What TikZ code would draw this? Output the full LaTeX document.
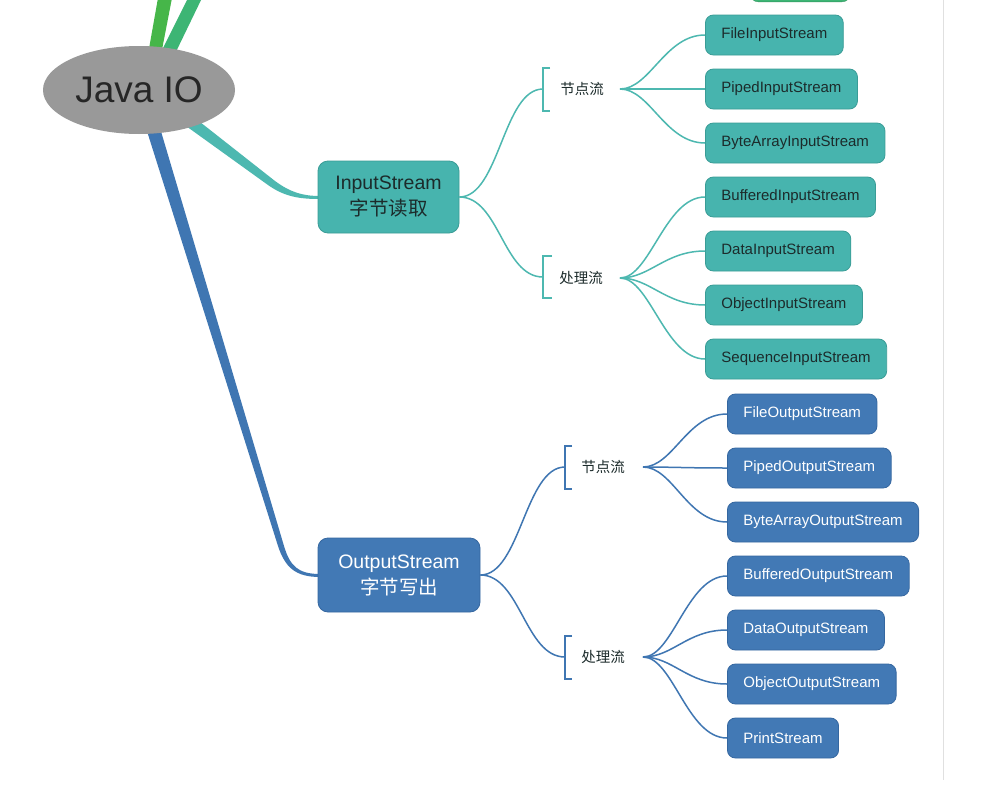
\documentclass[tikz,border=0pt]{standalone}
\usepackage{fontspec}
\setmainfont{Liberation Sans}
\newfontfamily\cjk{Noto Sans CJK SC}
\usetikzlibrary{shapes.geometric}
\definecolor{teal1}{HTML}{47B4AE}
\definecolor{teal2}{HTML}{3A9C96}
\definecolor{tealln}{HTML}{4DB8B0}
\definecolor{blue1}{HTML}{4279B5}
\definecolor{blue2}{HTML}{3567A0}
\definecolor{blueln}{HTML}{3F76B2}
\definecolor{green1}{HTML}{46B649}
\definecolor{green2}{HTML}{3DB574}
\definecolor{rootgray}{HTML}{999999}
\definecolor{darktxt}{HTML}{1C2B2B}
\tikzset{
  x=1pt, y=-1pt,
  leafin/.style={draw=teal2, fill=teal1, rounded corners=8pt, line width=0.8pt,
    minimum height=40pt, inner xsep=16pt, anchor=west, text=darktxt,
    font=\fontsize{15}{17}\selectfont},
  leafout/.style={draw=blue2, fill=blue1, rounded corners=8pt, line width=0.8pt,
    minimum height=40pt, inner xsep=16pt, anchor=west, text=white,
    font=\fontsize{15}{17}\selectfont},
  midbox/.style={rounded corners=10pt, line width=0.8pt, align=center,
    font=\fontsize{19.5}{24}\selectfont},
  catlabel/.style={font=\cjk\fontsize{14.5}{16}\selectfont, text=darktxt, inner sep=0pt},
  inconn/.style={draw=tealln, line width=1.5pt},
  outconn/.style={draw=blueln, line width=1.5pt},
  brk/.style={line width=1.5pt},
}
\begin{document}
\begin{tikzpicture}
\useasboundingbox (0,0) rectangle (1007,803);
\clip (0,0) rectangle (1007,803);
\fill[white] (0,0) rectangle (1007,803);

% right divider line
\draw[draw=black!12, line width=1pt] (943,0) -- (943,780);

% partially visible green box at top
\node[draw=green2!80!black, fill=green2, rounded corners=8pt, minimum width=100pt, minimum height=40pt, anchor=south west] (topbox) at (750,2) {};

% green branches going up
\fill[green1] (147,60) -- (158,-2) -- (172,-2) -- (160,60) -- cycle;
\fill[green2] (157,60) -- (188,-2) -- (202,-2) -- (172,60) -- cycle;

% main teal branch (tapered)
\fill[tealln] (186,126) -- (268,185) .. controls (285,197) and (300,199) .. (320,199)
  -- (320,196) .. controls (302,196) and (290,192) .. (275,181) -- (200,122) -- cycle;

% main blue branch (tapered)
\fill[blueln] (146,128) -- (278,546) .. controls (285,567) and (295,577) .. (320,577)
  -- (320,574) .. controls (298,574) and (290,566) .. (284,546) -- (160,128) -- cycle;

% root
\node[ellipse, fill=rootgray, minimum width=192pt, minimum height=88pt, inner sep=0pt,
  font=\fontsize{37}{40}\selectfont, text=black!85] (root) at (139,90) {Java IO};

% middle nodes
\node[midbox, draw=teal2, fill=teal1, text=darktxt, minimum width=141pt, minimum height=72pt] (ins) at (388.5,197)
  {InputStream\\[2pt]{\cjk 字节读取}};
\node[midbox, draw=blue2, fill=blue1, text=white, minimum width=162pt, minimum height=74pt] (outs) at (399,575)
  {OutputStream\\[2pt]{\cjk 字节写出}};

% category labels + bracket/fan coordinates
\node[catlabel] (in1) at (582,89) {节点流};
\node[catlabel] (in2) at (581,278) {处理流};
\node[catlabel] (out1) at (603,467) {节点流};
\node[catlabel] (out2) at (603,657) {处理流};
\coordinate (in1b) at (543,89);
\coordinate (in2b) at (543,277);
\coordinate (out1b) at (565,467);
\coordinate (out2b) at (565,657);
\coordinate (in1f) at (620,89);
\coordinate (in2f) at (620,278);
\coordinate (out1f) at (643,467);
\coordinate (out2f) at (643,657);

% brackets
\draw[brk, draw=tealln] ([shift={(7,-21)}]in1b) -- ([shift={(0,-21)}]in1b) -- ([shift={(0,22)}]in1b) -- ([shift={(7,22)}]in1b);
\draw[brk, draw=tealln] ([shift={(9,-21)}]in2b) -- ([shift={(0,-21)}]in2b) -- ([shift={(0,21)}]in2b) -- ([shift={(9,21)}]in2b);
\draw[brk, draw=blueln] ([shift={(7,-21)}]out1b) -- ([shift={(0,-21)}]out1b) -- ([shift={(0,22)}]out1b) -- ([shift={(7,22)}]out1b);
\draw[brk, draw=blueln] ([shift={(7,-21)}]out2b) -- ([shift={(0,-21)}]out2b) -- ([shift={(0,22)}]out2b) -- ([shift={(7,22)}]out2b);

% middle -> brackets
\draw[inconn] (ins.east) .. controls +(40,0) and +(-40,0) .. (in1b);
\draw[inconn] (ins.east) .. controls +(40,0) and +(-40,0) .. (in2b);
\draw[outconn] (outs.east) .. controls +(40,0) and +(-40,0) .. (out1b);
\draw[outconn] (outs.east) .. controls +(40,0) and +(-40,0) .. (out2b);

% leaves input
\node[leafin] (fis) at (705,35) {FileInputStream};
\node[leafin] (pis) at (705,89) {PipedInputStream};
\node[leafin] (bais) at (705,143) {ByteArrayInputStream};
\node[leafin] (bis) at (705,197) {BufferedInputStream};
\node[leafin] (dis) at (705,251) {DataInputStream};
\node[leafin] (ois) at (705,305) {ObjectInputStream};
\node[leafin] (sis) at (705,359) {SequenceInputStream};

% leaves output
\node[leafout] (fos) at (727,414) {FileOutputStream};
\node[leafout] (pos) at (727,468) {PipedOutputStream};
\node[leafout] (baos) at (727,522) {ByteArrayOutputStream};
\node[leafout] (bos) at (727,576) {BufferedOutputStream};
\node[leafout] (dos) at (727,630) {DataOutputStream};
\node[leafout] (oos) at (727,684) {ObjectOutputStream};
\node[leafout] (ps) at (727,738) {PrintStream};

% fans
\foreach \t in {fis,pis,bais}
  \draw[inconn] (in1f) .. controls +(30,0) and +(-40,0) .. (\t.west);
\foreach \t in {bis,dis,ois,sis}
  \draw[inconn] (in2f) .. controls +(30,0) and +(-40,0) .. (\t.west);
\foreach \t in {fos,pos,baos}
  \draw[outconn] (out1f) .. controls +(30,0) and +(-40,0) .. (\t.west);
\foreach \t in {bos,dos,oos,ps}
  \draw[outconn] (out2f) .. controls +(30,0) and +(-40,0) .. (\t.west);
\end{tikzpicture}
\end{document}
